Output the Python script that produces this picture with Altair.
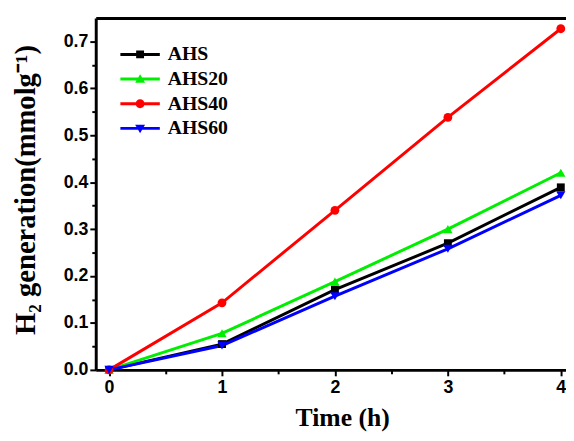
import altair as alt
import pandas as pd

series = ["AHS", "AHS20", "AHS40", "AHS60"]
colors = ["#000000", "#00ee00", "#ff0000", "#0000ff"]
shapes = ["square", "triangle-up", "circle", "triangle-down"]
time_h = [0, 1, 2, 3, 4]
ahs = [0.0, 0.055, 0.171, 0.270, 0.389]
ahs20 = [0.0, 0.078, 0.188, 0.300, 0.420]
ahs40 = [0.0, 0.143, 0.340, 0.538, 0.727]
ahs60 = [0.0, 0.052, 0.157, 0.258, 0.372]
x_ticks = [0, 1, 2, 3, 4]
x_minor = [0.5, 1.5, 2.5, 3.5]
y_ticks = [0.0, 0.1, 0.2, 0.3, 0.4, 0.5, 0.6, 0.7]
y_minor = [0.05, 0.15, 0.25, 0.35, 0.45, 0.55, 0.65]

# legend symbols: line with marker in the middle (unit = 5px)
line_p = "M-4,-0.3H4V0.3H-4Z"
legend_paths = [
    line_p + "M-0.8,-0.8H0.8V0.8H-0.8Z",
    line_p + "M0,-1L1,0.75H-1Z",
    line_p + "M-0.9,0A0.9,0.9 0 1,1 0.9,0A0.9,0.9 0 1,1 -0.9,0Z",
    line_p + "M0,1L-1,-0.75H1Z",
]

vals = [ahs, ahs20, ahs40, ahs60]
rows = []
for s, v in zip(series, vals):
    for t, y in zip(time_h, v):
        rows.append({"series": s, "time": t, "h2": y})
df = pd.DataFrame(rows)

xscale = alt.Scale(domain=[-0.118, 4.046], nice=False, zero=False)
yscale = alt.Scale(domain=[0, 0.75], nice=False, zero=False)
cscale = alt.Scale(domain=series, range=colors)

base = alt.Chart(df)

x_major = alt.Axis(values=x_ticks, title="Time (h)", orient="bottom", format="d",
                   tickSize=6, tickWidth=2, domainWidth=3, labelPadding=3,
                   titleX=250, titleY=48, titleBaseline="middle", titleAlign="center",
                   titleFontSize=26, grid=False)
y_major = alt.Axis(values=y_ticks, title="H₂ generation(mmolg⁻¹)", orient="left",
                   format=".1f", tickSize=6, tickWidth=2, domainWidth=3,
                   labelPadding=2, titleX=-71, titleY=174, titleAngle=270,
                   titleBaseline="middle", titleAlign="center", titleFontSize=29,
                   grid=False)
x_min_axis = alt.Axis(values=x_minor, title=None, orient="bottom", labels=False,
                      tickSize=4, tickWidth=2, domain=False, grid=False)
y_min_axis = alt.Axis(values=y_minor, title=None, orient="left", labels=False,
                      tickSize=4, tickWidth=2, domain=False, grid=False)
x_top = alt.Axis(values=x_ticks, title=None, orient="top", labels=False,
                 ticks=False, domainWidth=3, grid=False)

leg_df = pd.DataFrame({"series": series})
leg_kwargs = dict(
    orient="none", legendX=35, legendY=27, title=None,
    labelFont="Liberation Serif", labelFontWeight="bold", labelFontSize=20,
    labelColor="#000000", symbolSize=100, labelOffset=18, rowPadding=5,
    symbolOpacity=1, symbolStrokeWidth=0,
)
# hidden carrier for the legend: placed outside the x domain and clipped
legend_layer = alt.Chart(leg_df).mark_point(filled=True, clip=True).encode(
    x=alt.XDatum(-5, axis=None),
    y=alt.YDatum(0.3, axis=None),
    color=alt.Color("series:N", scale=cscale, legend=alt.Legend(**leg_kwargs)),
    shape=alt.Shape("series:N", scale=alt.Scale(domain=series, range=legend_paths),
                    legend=alt.Legend(**leg_kwargs)),
)

lines = base.mark_line(strokeWidth=3, clip=False).encode(
    x=alt.X("time:Q", scale=xscale, axis=x_major),
    y=alt.Y("h2:Q", scale=yscale, axis=y_major),
    color=alt.Color("series:N", scale=cscale, legend=None),
    detail="series:N",
)

pt_layers = []
axes_cfg = [(x_min_axis, y_min_axis), (x_top, None), (None, None), (None, None)]
sizes = [64, 90, 80, 90]
for i, s in enumerate(series):
    xa, ya = axes_cfg[i]
    pt = base.transform_filter(alt.datum.series == s).mark_point(
        filled=True, shape=shapes[i], size=sizes[i], opacity=1, clip=False
    ).encode(
        x=alt.X("time:Q", scale=xscale, axis=xa),
        y=alt.Y("h2:Q", scale=yscale, axis=ya),
        color=alt.Color("series:N", scale=cscale, legend=None),
    )
    pt_layers.append(pt)

chart = alt.layer(legend_layer, lines, *pt_layers).resolve_axis(
    x="independent", y="independent"
).properties(
    width=477, height=357,
    background="white",
    autosize=alt.AutoSizeParams(type="none"),
    padding={"left": 89, "top": 7, "right": 0, "bottom": 66},
).configure_view(stroke=None).configure_axis(
    labelFont="Liberation Sans", labelFontWeight="bold", labelFontSize=18,
    labelColor="#000000", titleFont="Liberation Serif", titleFontWeight="bold",
    titleColor="#000000", domainColor="#000000", tickColor="#000000",
)

chart.save("out.html", embed_options={"renderer": "svg", "actions": False})
